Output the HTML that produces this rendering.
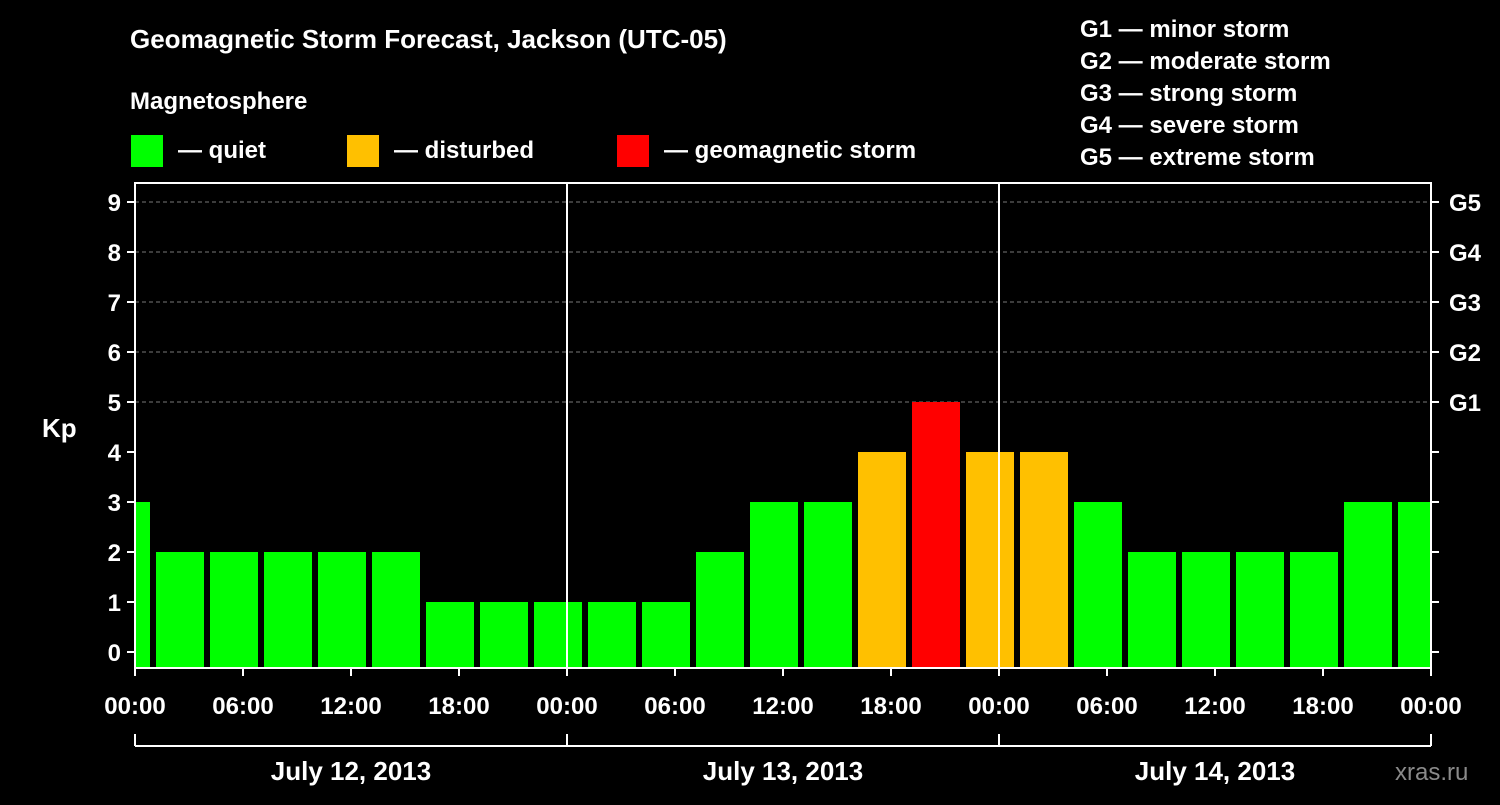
<!DOCTYPE html>
<html><head><meta charset="utf-8"><style>
body{margin:0;background:#000;}
svg text{font-family:"Liberation Sans",Arial,sans-serif;font-weight:bold;fill:#fff;}
</style></head><body>
<svg id="c" width="1500" height="800" viewBox="0 0 1500 800">
<rect width="1500" height="800" fill="#000"/>
<text x="130" y="48" font-size="26">Geomagnetic Storm Forecast, Jackson (UTC-05)</text>
<text x="130" y="109" font-size="24">Magnetosphere</text>
<g><rect x="131" y="135" width="32" height="32" fill="#00ff00"/><text x="178" y="158" font-size="24">— quiet</text></g>
<g><rect x="347" y="135" width="32" height="32" fill="#ffc000"/><text x="394" y="158" font-size="24">— disturbed</text></g>
<g><rect x="617" y="135" width="32" height="32" fill="#ff0000"/><text x="664" y="158" font-size="24">— geomagnetic storm</text></g>
<g font-size="24">
<text x="1080" y="37">G1 — minor storm</text>
<text x="1080" y="69">G2 — moderate storm</text>
<text x="1080" y="101">G3 — strong storm</text>
<text x="1080" y="133">G4 — severe storm</text>
<text x="1080" y="165">G5 — extreme storm</text>
</g>
<text x="42" y="437" font-size="26">Kp</text>
<text x="1395" y="780" font-size="24" fill="#888" style="fill:#8a8a8a;font-weight:normal">xras.ru</text>
<g id="grid"></g><g id="bars"></g><g id="axes"></g>
</svg>
<script>
const kpValues=[3,2,2,2,2,2,1,1,1,1,1,2,3,3,4,5,4,4,3,2,2,2,2,3,3];
const slotStartHours=[-2,1,4,7,10,13,16,19,22,25,28,31,34,37,40,43,46,49,52,55,58,61,64,67,70];
const kpTicks=[0,1,2,3,4,5,6,7,8,9];
const gLabels=["G1","G2","G3","G4","G5"];
const timeLabels=["00:00","06:00","12:00","18:00","00:00","06:00","12:00","18:00","00:00","06:00","12:00","18:00","00:00"];
const dateLabels=["July 12, 2013","July 13, 2013","July 14, 2013"];
const X0=135,X1=1431,HOURS=72,YT=183,YB=668;
const x=h=>X0+(h/HOURS)*(X1-X0);
const y=v=>652-v*50;
const NS="http://www.w3.org/2000/svg";
function mk(t,a,p){const e=document.createElementNS(NS,t);for(const k in a)e.setAttribute(k,a[k]);p.appendChild(e);return e;}
const grid=document.getElementById('grid'),bars=document.getElementById('bars'),axes=document.getElementById('axes');
kpTicks.forEach(v=>{if(v>=5){const l=mk('line',{x1:X0,x2:X1,y1:y(v),y2:y(v),stroke:'#777','stroke-dasharray':'4,3','stroke-width':1},grid);

}});
kpValues.forEach((v,i)=>{const h=slotStartHours[i];let a=x(h)+3,b=x(h+3)-3;a=Math.max(a,X0+1);b=Math.min(b,X1-1);
const c=v>=5?'#ff0000':(v>=4?'#ffc000':'#00ff00');
const r=mk('rect',{x:a,y:y(v),width:b-a,height:YB-y(v),fill:c},bars);

});
const fr=mk('rect',{x:X0,y:YT,width:X1-X0,height:YB-YT,fill:'none',stroke:'#fff','stroke-width':2},axes);


[24,48].forEach(h=>{const l=mk('line',{x1:x(h),x2:x(h),y1:YT,y2:YB,stroke:'#fff','stroke-width':2},axes);

});
kpTicks.forEach(v=>{mk('line',{x1:X0-8,x2:X0,y1:y(v),y2:y(v),stroke:'#fff','stroke-width':2},axes);
mk('line',{x1:X1,x2:X1+8,y1:y(v),y2:y(v),stroke:'#fff','stroke-width':2},axes);
const t=mk('text',{x:X0-14,y:y(v)+9,'font-size':24,'text-anchor':'end'},axes);t.textContent=v;

});
gLabels.forEach((g,i)=>{const t=mk('text',{x:1449,y:y(5+i)+9,'font-size':24},axes);t.textContent=g;

});
timeLabels.forEach((s,i)=>{const xx=x(i*6);mk('line',{x1:xx,x2:xx,y1:YB,y2:YB+8,stroke:'#fff','stroke-width':2},axes);
const t=mk('text',{x:xx,y:714,'font-size':24,'text-anchor':'middle'},axes);t.textContent=s;

});
mk('line',{x1:X0,x2:X1,y1:746,y2:746,stroke:'#fff','stroke-width':2},axes);
[0,24,48,72].forEach(h=>mk('line',{x1:x(h),x2:x(h),y1:734,y2:746,stroke:'#fff','stroke-width':2},axes));
dateLabels.forEach((d,i)=>{const t=mk('text',{x:x(i*24+12),y:780,'font-size':26,'text-anchor':'middle'},axes);t.textContent=d;

});
</script>
</body></html>
